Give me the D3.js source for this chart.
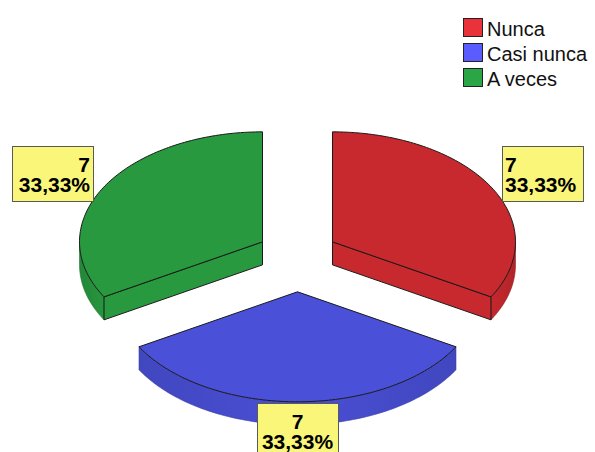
<!DOCTYPE html>
<html>
<head>
<meta charset="utf-8">
<script src="https://cdn.jsdelivr.net/npm/d3@7"></script>
<style>
  body { margin: 0; background: #fff; }
  svg { display: block; font-family: "Liberation Sans", Arial, sans-serif; }
</style>
</head>
<body>
<div id="chart"></div>
<script>
// data
const categories = ["Nunca", "Casi nunca", "A veces"];
const counts = [7, 7, 7];
const percentLabels = ["33,33%", "33,33%", "33,33%"];
const topColors = ["#c8292e", "#4a50d8", "#28993f"];
const legendColors = ["#ea323b", "#5a5cff", "#2ba646"];

const width = 595, height = 452;

// 3D pie geometry (projected ellipse)
const cx = 297.5, cy = 258.5;
const rx = 183, ry = 110, depth = 23;
const explodeX = 40.4, explodeY = 33.3;

const svg = d3.select("#chart").append("svg")
  .attr("width", width)
  .attr("height", height);
const defs = svg.append("defs");

const pie = d3.pie().sort(null).value(d => d.count);
const arcs = pie(categories.map((c, i) => ({ name: c, count: counts[i], pct: percentLabels[i], color: topColors[i] })));

arcs.forEach(a => {
  const mid = (a.startAngle + a.endAngle) / 2;
  a.mid = mid;
  a.cx = cx + explodeX * Math.sin(mid);
  a.cy = cy - explodeY * Math.cos(mid);
});

function pt(a, ang, dy = 0) {
  return [a.cx + rx * Math.sin(ang), a.cy - ry * Math.cos(ang) + dy];
}

function arcPoints(a, a0, a1, dy = 0) {
  const n = Math.max(2, Math.ceil(Math.abs(a1 - a0) / 0.02));
  return d3.range(n + 1).map(i => pt(a, a0 + (a1 - a0) * i / n, dy));
}

const line = d3.line();

// draw back slices first (smaller centre y)
const order = arcs.slice().sort((p, q) => p.cy - q.cy);
const g = svg.append("g");

order.forEach(a => {
  const fill = a.data.color;
  const col = d3.color(fill);
  const sg = g.append("g");

  // visible outer rim: part of arc between 90 and 270 degrees
  const s = Math.max(a.startAngle, Math.PI / 2);
  const e = Math.min(a.endAngle, 3 * Math.PI / 2);
  if (e > s) {
    const top = arcPoints(a, s, e);
    const bot = arcPoints(a, e, s, depth);
    const gid = "side" + a.index;
    const [x0] = pt(a, s), [x1] = pt(a, e);
    const edge = col.darker(0.35).formatHex();
    const midc = col.darker(0.05).formatHex();
    const stops = Math.abs(Math.sin(a.mid)) < 0.1
      ? [[0, edge], [0.5, midc], [1, edge]]
      : (Math.sin(a.mid) > 0 ? [[0, midc], [1, edge]] : [[0, edge], [1, midc]]);
    defs.append("linearGradient")
      .attr("id", gid)
      .attr("gradientUnits", "userSpaceOnUse")
      .attr("x1", Math.min(x0, x1)).attr("x2", Math.max(x0, x1))
      .attr("y1", 0).attr("y2", 0)
      .selectAll("stop")
      .data(stops)
      .join("stop")
      .attr("offset", d => d[0])
      .attr("stop-color", d => d[1]);
    sg.append("path")
      .attr("d", line(top.concat(bot)) + "Z")
      .attr("fill", `url(#${gid})`)
      .attr("stroke", col.darker(0.8).formatHex())
      .attr("stroke-width", 0.6);
  }

  // radial faces facing the viewer
  [[a.endAngle, Math.sin(a.endAngle) > 0.01], [a.startAngle, Math.sin(a.startAngle) < -0.01]]
    .filter(d => d[1])
    .forEach(([ang]) => {
      const p = pt(a, ang);
      const face = [[a.cx, a.cy], p, [p[0], p[1] + depth], [a.cx, a.cy + depth]];
      sg.append("path")
        .attr("d", line(face) + "Z")
        .attr("fill", fill)
        .attr("stroke", "#1a1a1a")
        .attr("stroke-width", 1);
    });

  // top face
  const topFace = [[a.cx, a.cy]].concat(arcPoints(a, a.startAngle, a.endAngle));
  sg.append("path")
    .attr("d", line(topFace) + "Z")
    .attr("fill", fill)
    .attr("stroke", "#1a1a1a")
    .attr("stroke-width", 1)
    .attr("stroke-linejoin", "round");
});

// value labels
const boxW = 81, boxH = 55;
arcs.forEach(a => {
  const s = Math.sin(a.mid);
  const anchor = pt(a, a.mid);
  let bx, by, tx, ta;
  if (s > 0.1) {
    bx = anchor[0] + 11; by = anchor[1] - 41;
    tx = bx + 3; ta = "start";
  } else if (s < -0.1) {
    bx = anchor[0] - 11 - boxW; by = anchor[1] - 41;
    tx = bx + boxW - 3; ta = "end";
  } else {
    bx = anchor[0] - boxW / 2; by = anchor[1] + 1;
    tx = anchor[0]; ta = "middle";
  }
  const lg = svg.append("g");
  lg.append("rect")
    .attr("x", Math.round(bx) + 0.5).attr("y", Math.round(by) + 0.5)
    .attr("width", boxW).attr("height", boxH)
    .attr("fill", "#f9f67a")
    .attr("stroke", "#5a5a5a")
    .attr("stroke-width", 1);
  const t = lg.append("text")
    .attr("text-anchor", ta)
    .attr("font-size", 21)
    .attr("font-weight", "bold")
    .attr("fill", "#000");
  t.append("tspan").attr("x", tx).attr("y", by + 26).text(a.data.count);
  t.append("tspan").attr("x", tx).attr("y", by + 46).text(a.data.pct);
});

// legend
const legend = svg.append("g").attr("transform", "translate(463,18)");
const items = legend.selectAll("g.item")
  .data(categories)
  .join("g")
  .attr("class", "item")
  .attr("transform", (d, i) => `translate(0,${i * 25})`);
items.append("rect")
  .attr("x", 0.5).attr("y", 0.5)
  .attr("width", 19).attr("height", 18)
  .attr("fill", (d, i) => legendColors[i])
  .attr("stroke", "#222")
  .attr("stroke-width", 1);
items.append("text")
  .attr("x", 24).attr("y", 18)
  .attr("font-size", 20)
  .attr("fill", "#111")
  .text(d => d);
</script>
</body>
</html>
